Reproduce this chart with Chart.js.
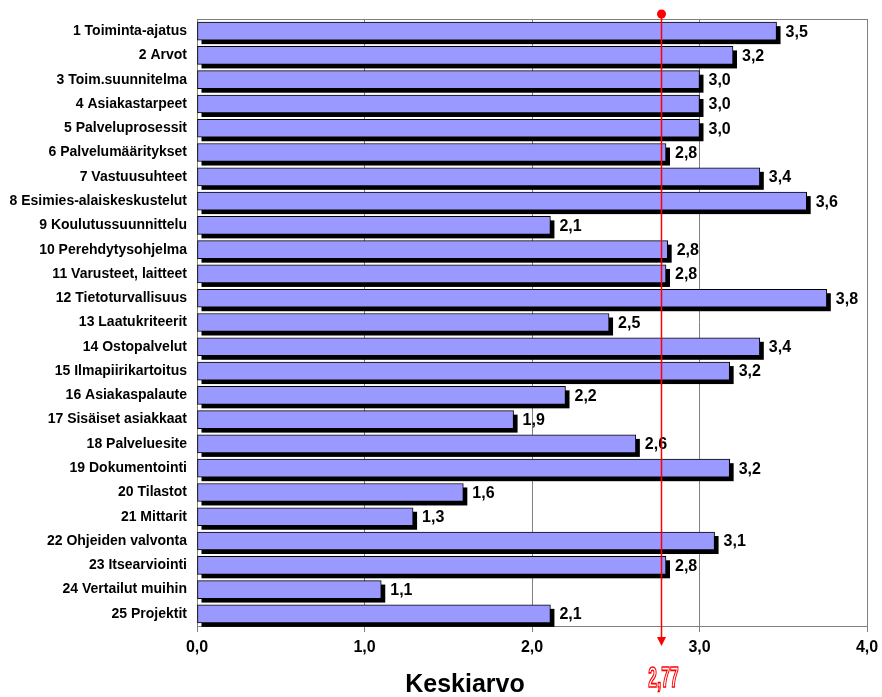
<!DOCTYPE html>
<html>
<head>
<meta charset="utf-8">
<script src="https://cdn.jsdelivr.net/npm/chart.js@4.4.1/dist/chart.umd.min.js"></script>
<style>
  html, body { margin: 0; padding: 0; background: #ffffff; }
  #wrap { width: 882px; height: 697px; }
</style>
</head>
<body>
<div id="wrap"><canvas id="c" width="882" height="697"></canvas></div>
<script>
const categories = [
  '1 Toiminta-ajatus', '2 Arvot', '3 Toim.suunnitelma', '4 Asiakastarpeet',
  '5 Palveluprosessit', '6 Palvelumääritykset', '7 Vastuusuhteet',
  '8 Esimies-alaiskeskustelut', '9 Koulutussuunnittelu', '10 Perehdytysohjelma',
  '11 Varusteet, laitteet', '12 Tietoturvallisuus', '13 Laatukriteerit',
  '14 Ostopalvelut', '15 Ilmapiirikartoitus', '16 Asiakaspalaute',
  '17 Sisäiset asiakkaat', '18 Palveluesite', '19 Dokumentointi', '20 Tilastot',
  '21 Mittarit', '22 Ohjeiden valvonta', '23 Itsearviointi',
  '24 Vertailut muihin', '25 Projektit'
];
const averages = [
  3.46, 3.20, 3.00, 3.00, 3.00, 2.80, 3.36, 3.64, 2.11, 2.81,
  2.80, 3.76, 2.46, 3.36, 3.18, 2.20, 1.89, 2.62, 3.18, 1.59,
  1.29, 3.09, 2.80, 1.10, 2.11
];
const overallMean = 2.77;
const axisTicks = [0, 1, 2, 3, 4];
const axisTitle = 'Keskiarvo';

const FONT = '"Liberation Sans", Arial, sans-serif';
const fmt = (v, d) => v.toFixed(d).replace('.', ',');

// black drop shadow behind each bar
const barShadow = {
  id: 'barShadow',
  beforeDatasetsDraw(chart) {
    const ctx = chart.ctx;
    const meta = chart.getDatasetMeta(0);
    ctx.save();
    ctx.fillStyle = '#000000';
    meta.data.forEach(el => {
      const p = el.getProps(['x', 'y', 'base', 'height'], true);
      ctx.fillRect(p.base + 4, p.y - p.height / 2 + 4, p.x - p.base, p.height);
    });
    ctx.restore();
  }
};

// value labels, plot frame, mean marker and axis title
const overlay = {
  id: 'overlay',
  afterDraw(chart) {
    const ctx = chart.ctx;
    const area = chart.chartArea;
    const xs = chart.scales.x;
    const meta = chart.getDatasetMeta(0);

    ctx.save();
    // frame on top and right
    ctx.strokeStyle = '#808080';
    ctx.lineWidth = 1;
    ctx.beginPath();
    ctx.moveTo(Math.round(area.left) + 0.5, Math.round(area.top) + 0.5);
    ctx.lineTo(Math.round(area.right) + 0.5, Math.round(area.top) + 0.5);
    ctx.lineTo(Math.round(area.right) + 0.5, Math.round(area.bottom) + 0.5);
    ctx.stroke();

    // value labels
    ctx.fillStyle = '#000000';
    ctx.font = 'bold 16px ' + FONT;
    ctx.textAlign = 'left';
    ctx.textBaseline = 'middle';
    meta.data.forEach((el, i) => {
      const p = el.getProps(['x', 'y'], true);
      ctx.fillText(fmt(averages[i], 1), p.x + 9, p.y + 1);
    });

    // mean marker
    const mx = Math.round(xs.getPixelForValue(overallMean)) + 0.5;
    ctx.strokeStyle = '#ff0000';
    ctx.fillStyle = '#ff0000';
    ctx.lineWidth = 1.5;
    ctx.beginPath();
    ctx.moveTo(mx, 14);
    ctx.lineTo(mx, 638);
    ctx.stroke();
    ctx.beginPath();
    ctx.arc(mx, 14, 4.5, 0, Math.PI * 2);
    ctx.fill();
    ctx.beginPath();
    ctx.moveTo(mx - 4.5, 637);
    ctx.lineTo(mx + 4.5, 637);
    ctx.lineTo(mx, 646);
    ctx.closePath();
    ctx.fill();

    // mean value, outlined condensed text
    ctx.save();
    ctx.translate(mx + 2, 687);
    ctx.scale(0.52, 1);
    ctx.font = 'bold 30px ' + FONT;
    ctx.textAlign = 'center';
    ctx.textBaseline = 'alphabetic';
    ctx.fillStyle = '#ffffff';
    ctx.fillText(fmt(overallMean, 2), 0, 0);
    ctx.lineWidth = 1.7;
    ctx.strokeStyle = '#ff0000';
    ctx.strokeText(fmt(overallMean, 2), 0, 0);
    ctx.restore();

    // axis title
    ctx.fillStyle = '#000000';
    ctx.font = 'bold 25px ' + FONT;
    ctx.textAlign = 'center';
    ctx.textBaseline = 'alphabetic';
    ctx.fillText(axisTitle, 465, 692);
    ctx.restore();
  }
};

new Chart(document.getElementById('c'), {
  type: 'bar',
  data: {
    labels: categories,
    datasets: [{
      data: averages,
      backgroundColor: '#9999ff',
      borderColor: '#000000',
      borderWidth: 1,
      borderSkipped: false,
      barThickness: 18
    }]
  },
  options: {
    indexAxis: 'y',
    responsive: false,
    animation: false,
    devicePixelRatio: 1,
    layout: { padding: { top: 19, right: 15, left: 0, bottom: 0 } },
    plugins: {
      legend: { display: false },
      tooltip: { enabled: false }
    },
    scales: {
      x: {
        min: 0,
        max: 4,
        afterBuildTicks(scale) { scale.ticks = axisTicks.map(v => ({ value: v })); },
        afterFit(scale) {
          scale.height = 71;
          scale.paddingLeft = 0;
          scale.paddingRight = 0;
        },
        ticks: {
          color: '#000000',
          font: { family: FONT, size: 16, weight: 'bold' },
          padding: 6,
          callback: v => fmt(v, 1)
        },
        grid: {
          color: '#808080',
          lineWidth: 1,
          tickLength: 6,
          drawOnChartArea: true
        },
        border: { color: '#808080', width: 1 }
      },
      y: {
        afterFit(scale) {
          scale.width = 197;
          scale.paddingTop = 0;
          scale.paddingBottom = 0;
        },
        ticks: {
          color: '#000000',
          font: { family: FONT, size: 14, weight: 'bold' },
          padding: 10,
          autoSkip: false
        },
        grid: {
          display: true,
          drawOnChartArea: false,
          drawTicks: false
        },
        border: { color: '#808080', width: 1 }
      }
    }
  },
  plugins: [barShadow, overlay]
});
</script>
</body>
</html>
